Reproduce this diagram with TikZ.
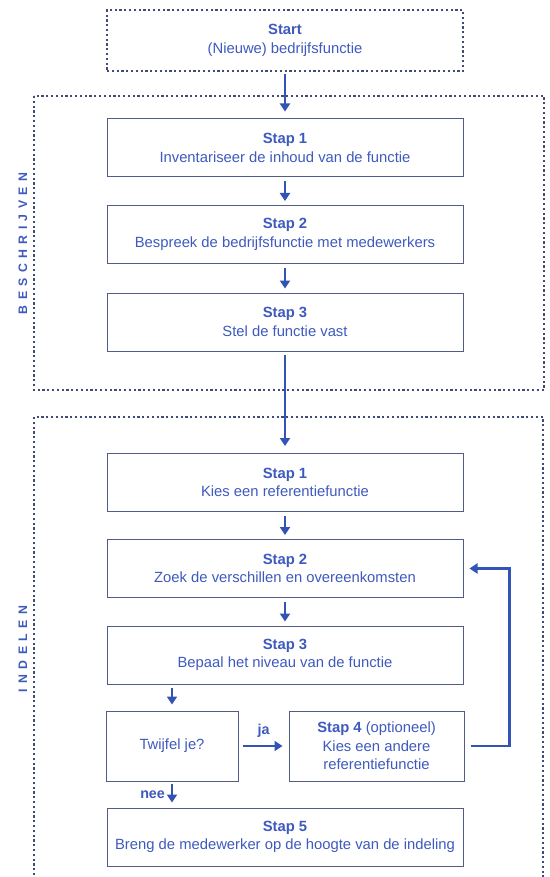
\documentclass[tikz,border=0pt]{standalone}
\usepackage{fontspec}
\setmainfont{Liberation Sans}
\usetikzlibrary{arrows.meta}
\definecolor{txtblue}{RGB}{62,90,190}
\definecolor{arrblue}{RGB}{50,84,180}
\definecolor{boxline}{RGB}{82,92,134}
\definecolor{dotline}{RGB}{66,74,118}
\newcommand\lsp{\kern5.4pt}
\begin{document}
\begin{tikzpicture}[x=1pt,y=-1pt,
  stepbox/.style={draw=boxline, line width=1pt, text=txtblue, align=center,
    font=\fontsize{14.8}{18.5}\selectfont, inner sep=0pt, minimum width=356pt, minimum height=58pt},
  smallbox/.style={stepbox, minimum height=70pt},
  startbox/.style={stepbox, draw=dotline, line width=2.2pt, dash pattern=on 2.2pt off 2.6pt, minimum height=61pt},
  dotframe/.style={draw=dotline, line width=2.2pt, dash pattern=on 2.2pt off 2.6pt},
  flow/.style={draw=arrblue, line width=2.2pt, -{Triangle[width=10pt,length=8pt]}, shorten <=4pt, shorten >=4pt},
  sidelabel/.style={rotate=90, text=txtblue, font=\bfseries\fontsize{12.3}{13}\selectfont, inner sep=0pt},
  flowlabel/.style={text=txtblue, font=\bfseries\fontsize{14.3}{15}\selectfont, inner sep=0pt}
]
\useasboundingbox (0,0) rectangle (549,877);
\fill[white] (0,0) rectangle (549,877);

% frames
\draw[dotframe] (34,96) rectangle (544,390);
\draw[dotframe] (34,880) -- (34,417) -- (543,417) -- (543,880);
\node[sidelabel] (lbes) at (23,243.5) {B\lsp E\lsp S\lsp C\lsp H\lsp R\lsp I\lsp J\lsp V\lsp E\lsp N};
\node[sidelabel] (lind) at (23,649) {I\lsp N\lsp D\lsp E\lsp L\lsp E\lsp N};

% nodes
\node[startbox] (start) at (285,40.5) {\textbf{Start}\\(Nieuwe) bedrijfsfunctie};
\node[stepbox] (b1) at (285,148) {\textbf{Stap 1}\\Inventariseer de inhoud van de functie};
\node[stepbox] (b2) at (285,234.5) {\textbf{Stap 2}\\Bespreek de bedrijfsfunctie met medewerkers};
\node[stepbox] (b3) at (285,322) {\textbf{Stap 3}\\Stel de functie vast};
\node[stepbox] (i1) at (285,482.5) {\textbf{Stap 1}\\Kies een referentiefunctie};
\node[stepbox] (i2) at (285,568.5) {\textbf{Stap 2}\\Zoek de verschillen en overeenkomsten};
\node[stepbox] (i3) at (285,655) {\textbf{Stap 3}\\Bepaal het niveau van de functie};
\node[smallbox, minimum width=132pt] (tw) at (172,746) {Twijfel je?};
\node[smallbox, minimum width=175pt] (s4) at (376.5,746) {\textbf{Stap 4} (optioneel)\\Kies een andere\\referentiefunctie};
\node[stepbox] (i5) at (285,837) {\textbf{Stap 5}\\Breng de medewerker op de hoogte van de indeling};

% connectors
\draw[flow, shorten <=2pt, shorten >=7pt] (start) -- (b1);
\draw[flow] (b1) -- (b2);
\draw[flow] (b2) -- (b3);
\draw[flow, shorten <=3pt, shorten >=7pt] (b3) -- (i1);
\draw[flow] (i1) -- (i2);
\draw[flow] (i2) -- (i3);
\draw[flow, shorten <=3pt, shorten >=6pt] (tw.north |- i3.south) -- (tw.north);
\draw[flow, shorten <=4pt, shorten >=6pt] (tw.east) -- node[flowlabel, above=7pt] (ja) {ja} (s4.west);
\draw[flow, shorten <=2pt, shorten >=5pt] (tw.south) -- node[flowlabel, left=6pt] (nee) {nee} (tw.south |- i5.north);
\coordinate (loop) at ([xshift=45pt]s4.east);
\draw[flow, shorten <=6pt, shorten >=6pt] (s4.east) -- (loop) |- (i2.east);
\end{tikzpicture}
\end{document}
